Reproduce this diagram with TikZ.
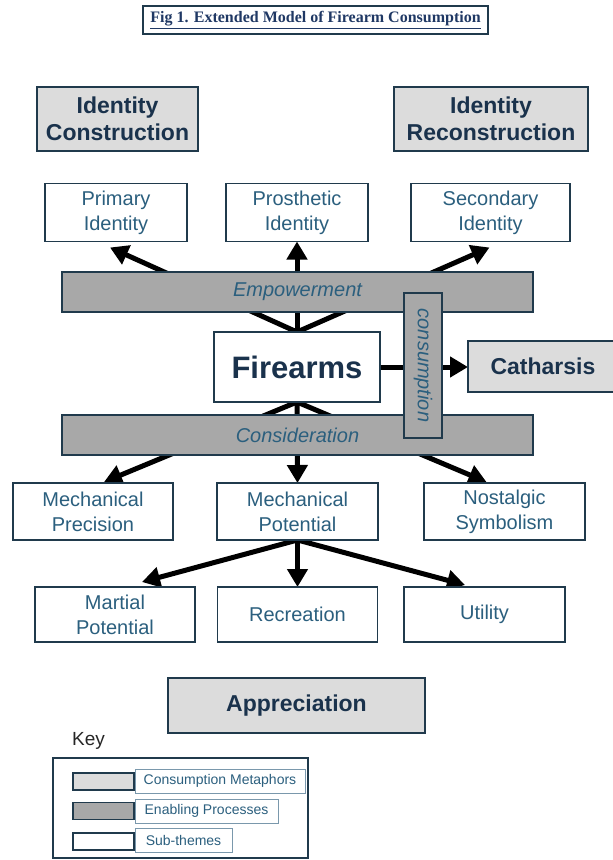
\documentclass[tikz,border=0pt]{standalone}
\usepackage{fontspec}
\setmainfont{Liberation Sans}
\newfontfamily\titlefont{Liberation Serif}
\usetikzlibrary{arrows.meta,calc}
\pgfdeclarelayer{bg}
\pgfsetlayers{bg,main}
\definecolor{navy}{HTML}{1A324C}
\definecolor{steel}{HTML}{2B5F7E}
\definecolor{edge}{HTML}{203A4C}
\definecolor{lightfill}{HTML}{DCDCDC}
\definecolor{darkfill}{HTML}{A8A8A8}
\definecolor{keyedge}{HTML}{7A98AC}
\definecolor{titleblue}{HTML}{1F3864}
\tikzset{
  box/.style={draw=edge, line width=1.6pt, inner sep=0pt, outer sep=0pt, align=center},
  metaphor/.style={box, fill=lightfill, text=navy, font=\fontsize{23}{27}\selectfont\bfseries},
  subtheme/.style={box, fill=white, text=steel, font=\fontsize{20}{25}\selectfont},
  process/.style={box, fill=darkfill, text=steel, font=\fontsize{20}{24}\selectfont\itshape},
  conn/.style={line width=5pt, -{Triangle[length=18pt,width=20pt]}},
  swatch/.style={draw=edge, line width=1.6pt, inner sep=0pt, outer sep=0pt, minimum width=61pt, minimum height=17pt},
  keylabel/.style={draw=keyedge, line width=0.8pt, fill=white, text=steel, inner sep=0pt, outer sep=0pt, anchor=west, minimum height=24pt, font=\fontsize{14}{16}\selectfont},
}
\begin{document}
\begin{tikzpicture}[x=1pt,y=-1pt]
\useasboundingbox (0,0) rectangle (613,860);
% title
\node[draw=edge, line width=2pt, minimum width=345pt, minimum height=28pt, inner sep=0pt, text=titleblue, font=\titlefont\fontsize{16}{18}\selectfont\bfseries] (title) at (315.5,20) {\underline{Fig 1. Extended Model of Firearm Consumption}};
% metaphors
\node[metaphor, minimum width=161pt, minimum height=64pt] (idc) at (117.5,119) {Identity\\Construction};
\node[metaphor, minimum width=194pt, minimum height=64pt] (idr) at (491,119) {Identity\\Reconstruction};
% sub-themes top
\node[subtheme, minimum width=142pt, minimum height=58pt] (prim) at (116,212.5) {Primary\\Identity};
\node[subtheme, minimum width=142pt, minimum height=58pt] (pros) at (297,212.5) {Prosthetic\\Identity};
\node[subtheme, minimum width=159pt, minimum height=58pt] (sec) at (490.5,212.5) {Secondary\\Identity};
% processes
\node[process, minimum width=471pt, minimum height=40pt] (emp) at (297.5,292) {Empowerment};
\node[process, minimum width=471pt, minimum height=40pt] (cons) at (297.5,435) {Consideration};
% firearms
\node[box, fill=white, text=navy, font=\fontsize{31}{36}\selectfont\bfseries, minimum width=166pt, minimum height=70pt] (fire) at (297,367) {Firearms};
\node[metaphor, minimum width=150pt, minimum height=51pt] (cath) at (543,366.5) {Catharsis};
\node[process, rotate=-90, minimum width=145pt, minimum height=38pt] (consum) at (423,365.5) {consumption};
% sub-themes middle
\node[subtheme, minimum width=160pt, minimum height=57pt] (mprec) at (93,511.5) {Mechanical\\Precision};
\node[subtheme, minimum width=161pt, minimum height=57pt] (mpot) at (297.5,511.5) {Mechanical\\Potential};
\node[subtheme, minimum width=161pt, minimum height=57pt] (nost) at (504.5,511.5) {Nostalgic\\Symbolism};
% sub-themes bottom
\node[subtheme, minimum width=160pt, minimum height=55pt] (mart) at (115,614.5) {Martial\\Potential};
\node[subtheme, minimum width=160pt, minimum height=55pt] (rec) at (297.5,614.5) {Recreation};
\node[subtheme, minimum width=161pt, minimum height=55pt] (util) at (484.5,614.5) {Utility};
% appreciation
\node[metaphor, minimum width=257pt, minimum height=55pt] (appr) at (296.5,705.5) {Appreciation};
% key
\node[anchor=base west, inner sep=0pt, text=black!85, font=\fontsize{19}{22}\selectfont] (keyt) at (72,745) {Key};
\node[draw=edge, line width=1.6pt, inner sep=0pt, outer sep=0pt, minimum width=255pt, minimum height=100pt] (keybox) at (180.5,808) {};
\node[swatch, fill=lightfill] (sw1) at (103.5,781.5) {};
\node[swatch, fill=darkfill] (sw2) at (103.5,811) {};
\node[swatch, fill=white] (sw3) at (103.5,841.5) {};
\node[keylabel, minimum width=170pt] (kl1) at (135,781) {Consumption Metaphors};
\node[keylabel, minimum width=143pt] (kl2) at (135,811) {Enabling Processes};
\node[keylabel, minimum width=97pt] (kl3) at (135,840.5) {Sub-themes};
% connectors
\begin{pgfonlayer}{bg}
\draw[conn] (fire.north) -- ($(prim.south)+(-6,6)$);
\draw[conn] (fire.north) -- (pros.south);
\draw[conn] (fire.north) -- ($(sec.south)+(-1,6)$);
\draw[conn] (fire.south) -- ($(mprec.north)+(11,-1)$);
\draw[conn] (fire.south) -- (mpot.north);
\draw[conn] (fire.south) -- ($(nost.north)+(-18,-1)$);
\draw[conn] (mpot.south) -- ($(mart.north)+(27,-5)$);
\draw[conn] (mpot.south) -- (rec.north);
\draw[conn] (mpot.south) -- ($(util.north)+(-19.5,-2)$);
\draw[conn] (fire.east) -- (fire.east -| cath.west);
\end{pgfonlayer}
\end{tikzpicture}
\end{document}
